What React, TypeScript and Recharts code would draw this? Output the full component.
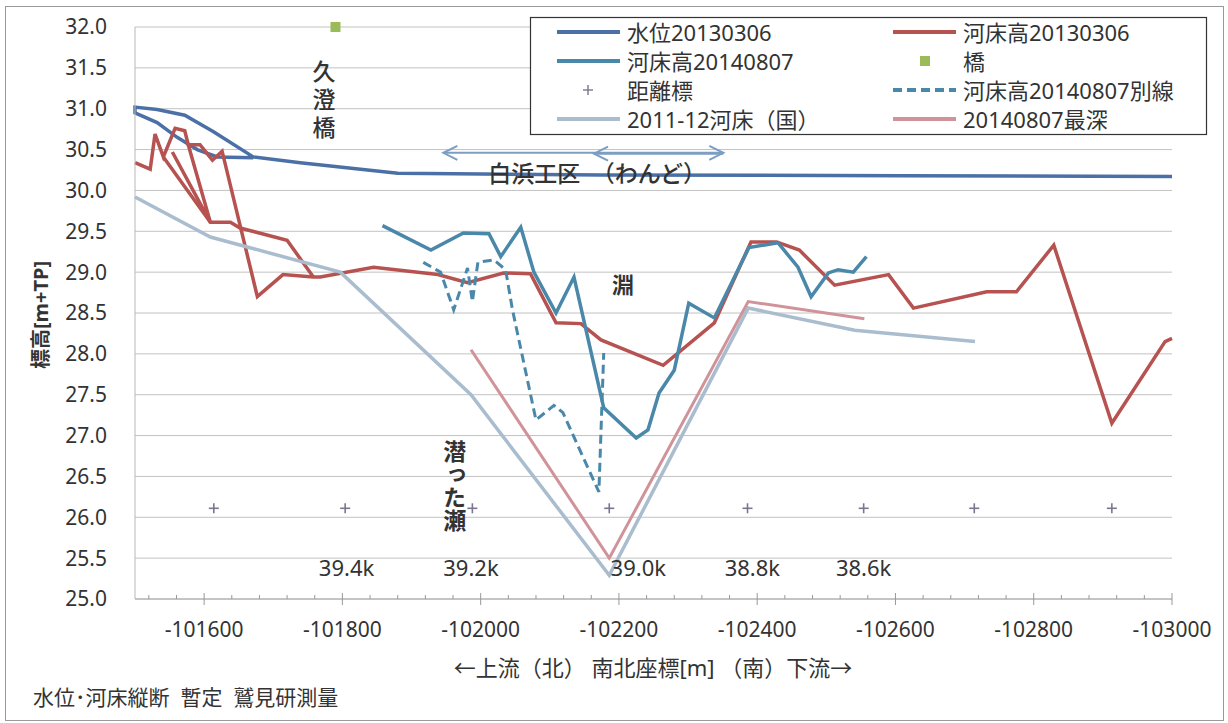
import React from 'react';
import {
  ComposedChart, Line, Scatter, XAxis, YAxis, CartesianGrid, ReferenceDot, ReferenceLine,
} from 'recharts';

const FONT = "'Noto Sans', 'Noto Sans CJK JP', sans-serif";

// ---- data (x: 南北座標 [m], y: 標高 [m+TP]) ----
const waterLevel20130306 = [
  { x: -101671, y: 30.4 }, { x: -101619, y: 30.41 }, { x: -101590, y: 30.5 }, { x: -101561, y: 30.65 },
  { x: -101532, y: 30.83 }, { x: -101500, y: 30.95 }, { x: -101500, y: 31.02 }, { x: -101532, y: 30.99 },
  { x: -101572, y: 30.92 }, { x: -101613, y: 30.72 }, { x: -101671, y: 30.41 }, { x: -101739, y: 30.34 },
  { x: -101880, y: 30.21 }, { x: -102174, y: 30.19 }, { x: -102609, y: 30.18 }, { x: -103000, y: 30.17 },
];

const bed20130306 = [
  { x: -101500, y: 30.34 }, { x: -101522, y: 30.26 }, { x: -101529, y: 30.69 }, { x: -101541, y: 30.41 },
  { x: -101558, y: 30.76 }, { x: -101572, y: 30.73 }, { x: -101577, y: 30.56 }, { x: -101594, y: 30.56 },
  { x: -101612, y: 30.37 }, { x: -101626, y: 30.48 }, { x: -101677, y: 28.7 }, { x: -101714, y: 28.97 },
  { x: -101758, y: 28.94 }, { x: -101768, y: 28.94 }, { x: -101845, y: 29.06 }, { x: -101938, y: 28.97 },
  { x: -101981, y: 28.87 }, { x: -102033, y: 28.99 }, { x: -102072, y: 28.98 }, { x: -102109, y: 28.38 },
  { x: -102145, y: 28.37 }, { x: -102174, y: 28.17 }, { x: -102264, y: 27.86 }, { x: -102338, y: 28.38 },
  { x: -102391, y: 29.37 }, { x: -102428, y: 29.37 }, { x: -102461, y: 29.27 }, { x: -102512, y: 28.84 },
  { x: -102590, y: 28.97 }, { x: -102626, y: 28.56 }, { x: -102732, y: 28.76 }, { x: -102775, y: 28.76 },
  { x: -102829, y: 29.33 }, { x: -102913, y: 27.15 }, { x: -102990, y: 28.15 }, { x: -103000, y: 28.19 },
];
const bed20130306Branch = [
  { x: -101541, y: 30.41 }, { x: -101609, y: 29.61 }, { x: -101638, y: 29.61 }, { x: -101652, y: 29.54 },
  { x: -101720, y: 29.39 }, { x: -101758, y: 28.94 },
];
const bed20130306Fan = [
  { x: -101577, y: 30.56 }, { x: -101609, y: 29.61 }, { x: -101554, y: 30.47 },
];

const bed20140807 = [
  { x: -101858, y: 29.57 }, { x: -101928, y: 29.27 }, { x: -101975, y: 29.48 }, { x: -102012, y: 29.47 },
  { x: -102029, y: 29.19 }, { x: -102058, y: 29.55 }, { x: -102077, y: 29.0 }, { x: -102109, y: 28.5 },
  { x: -102135, y: 28.94 }, { x: -102178, y: 27.34 }, { x: -102225, y: 26.97 }, { x: -102242, y: 27.07 },
  { x: -102258, y: 27.52 }, { x: -102280, y: 27.8 }, { x: -102301, y: 28.62 }, { x: -102338, y: 28.44 },
  { x: -102388, y: 29.3 }, { x: -102430, y: 29.36 }, { x: -102459, y: 29.06 }, { x: -102478, y: 28.7 },
  { x: -102503, y: 28.99 }, { x: -102517, y: 29.03 }, { x: -102539, y: 29.0 }, { x: -102558, y: 29.19 },
];

const bed20140807Alt = [
  { x: -101917, y: 29.12 }, { x: -101942, y: 29.0 }, { x: -101961, y: 28.54 }, { x: -101981, y: 29.05 },
  { x: -101988, y: 28.64 }, { x: -101996, y: 29.12 }, { x: -102019, y: 29.15 }, { x: -102036, y: 29.03 },
  { x: -102046, y: 28.54 }, { x: -102080, y: 27.19 }, { x: -102106, y: 27.37 }, { x: -102119, y: 27.28 },
  { x: -102171, y: 26.31 }, { x: -102178, y: 28.01 },
];

const bed201112 = [
  { x: -101500, y: 29.92 }, { x: -101609, y: 29.43 }, { x: -101797, y: 29.0 }, { x: -101986, y: 27.5 },
  { x: -102186, y: 25.29 }, { x: -102387, y: 28.56 }, { x: -102541, y: 28.29 }, { x: -102715, y: 28.15 },
];

const deepest20140807 = [
  { x: -101986, y: 28.05 }, { x: -102186, y: 25.5 }, { x: -102387, y: 28.64 }, { x: -102555, y: 28.43 },
];

const bridge = [{ x: -101790, y: 32.0 }];

const distanceMarkers = [
  { x: -101614, y: 26.11 }, { x: -101804, y: 26.11 }, { x: -101988, y: 26.11 }, { x: -102186, y: 26.11 },
  { x: -102386, y: 26.11 }, { x: -102554, y: 26.11 }, { x: -102714, y: 26.11 }, { x: -102913, y: 26.11 },
];

const kmLabels = [
  { x: -101806, y: 25.39, label: '39.4k' }, { x: -101986, y: 25.39, label: '39.2k' },
  { x: -102228, y: 25.39, label: '39.0k' }, { x: -102393, y: 25.39, label: '38.8k' },
  { x: -102554, y: 25.39, label: '38.6k' },
];

const yTicks = [25, 25.5, 26, 26.5, 27, 27.5, 28, 28.5, 29, 29.5, 30, 30.5, 31, 31.5, 32];
const xMajorTicks = [-101600, -101800, -102000, -102200, -102400, -102600, -102800, -103000];
const xMinorStep = 40;
const xTicks: number[] = [];
for (let v = -103000; v <= -101520; v += xMinorStep) xTicks.push(v);

// ---- styles ----
const C_WATER = '#4b70a6';
const C_RED = '#b65250';
const C_TEAL = '#4a88aa';
const C_GREEN = '#9bbb59';
const C_PLUS = '#7b7591';
const C_GREY = '#aabdcf';
const C_PINK = '#d0939a';
const C_ARROW = '#7c9ec3';
const C_TEXT = '#333';

const XTick = (props: any) => {
  const { x, y, payload } = props;
  const v = payload.value;
  const major = xMajorTicks.includes(v);
  return (
    <g>
      <line x1={x} x2={x} y1={major ? y - 6 : y - 4} y2={major ? y + 6 : y} stroke="#999" strokeWidth={1} />
      {major && (
        <text x={x} y={y + 38} textAnchor="middle" fontSize={21} fill={C_TEXT} fontFamily={FONT}>{v}</text>
      )}
    </g>
  );
};

const plusShape = (p: any) => (
  <g stroke={C_PLUS} strokeWidth={1.6}>
    <line x1={p.cx - 5} x2={p.cx + 5} y1={p.cy} y2={p.cy} />
    <line x1={p.cx} x2={p.cx} y1={p.cy - 5} y2={p.cy + 5} />
  </g>
);
const squareShape = (p: any) => <rect x={p.cx - 5} y={p.cy - 5} width={10} height={10} fill={C_GREEN} />;
const kmShape = (p: any) => (
  <text x={p.cx} y={p.cy} textAnchor="middle" dominantBaseline="central" fontSize={22} fill={C_TEXT} fontFamily={FONT}>
    {p.payload.label}
  </text>
);

const arrowHead = (dir: number) => (p: any) => (
  <polyline
    points={`${p.cx - dir * 14},${p.cy - 7} ${p.cx},${p.cy} ${p.cx - dir * 14},${p.cy + 7}`}
    fill="none" stroke={C_ARROW} strokeWidth={2}
  />
);

const textShape = (s: string, size: number, anchor: string = 'middle', weight = 500) => (p: any) => (
  <text x={p.cx} y={p.cy} textAnchor={anchor} dominantBaseline="central"
    fontSize={size} fill={C_TEXT} fontFamily={FONT} fontWeight={weight}>{s}</text>
);

const verticalText = (s: string, size: number, spacing: number, weight = 500) => (p: any) => (
  <text x={p.cx} y={p.cy} textAnchor="start" fontSize={size} fill={C_TEXT} fontFamily={FONT} fontWeight={weight}
    style={{ writingMode: 'vertical-rl', letterSpacing: spacing }}>{s}</text>
);

const legendRows = [
  [{ t: 'line', c: C_WATER, label: '水位20130306' }, { t: 'line', c: C_RED, label: '河床高20130306' }],
  [{ t: 'line', c: C_TEAL, label: '河床高20140807' }, { t: 'square', c: C_GREEN, label: '橋' }],
  [{ t: 'plus', c: C_PLUS, label: '距離標' }, { t: 'dash', c: C_TEAL, label: '河床高20140807別線' }],
  [{ t: 'line', c: C_GREY, label: '2011-12河床（国）' }, { t: 'line', c: C_PINK, label: '20140807最深' }],
];

const Swatch = ({ t, c, x, y }: any) => {
  if (t === 'line') return <line x1={x} x2={x + 63} y1={y} y2={y} stroke={c} strokeWidth={4} />;
  if (t === 'dash') return <line x1={x} x2={x + 63} y1={y} y2={y} stroke={c} strokeWidth={4} strokeDasharray="9 5" />;
  if (t === 'square') return <rect x={x + 27} y={y - 5} width={10} height={10} fill={c} />;
  return (
    <g stroke={c} strokeWidth={1.4}>
      <line x1={x + 26} x2={x + 36} y1={y} y2={y} />
      <line x1={x + 31} x2={x + 31} y1={y - 5} y2={y + 5} />
    </g>
  );
};

export default function App() {
  return (
    <div style={{ position: 'absolute', left: 0, top: 0, width: 1228, height: 723, background: '#fff', fontFamily: FONT }}>
      <ComposedChart width={1228} height={723} margin={{ top: 27, right: 56, bottom: 84, left: 0 }}>
        <CartesianGrid horizontal vertical={false} stroke="#c2c2c2" strokeWidth={1} />
        <XAxis type="number" dataKey="x" domain={[-103000, -101500]} reversed ticks={xTicks} interval={0}
          tick={<XTick />} tickLine={false} tickSize={0} tickMargin={0} axisLine={{ stroke: '#a8a8a8' }} height={40} />
        <YAxis type="number" dataKey="y" domain={[25, 32]} ticks={yTicks} width={135} tickLine={false}
          tickSize={0} tickMargin={28} axisLine={{ stroke: '#b8b8b8' }} interval={0}
          tick={{ fontSize: 21, fill: C_TEXT, fontFamily: FONT }} tickFormatter={(v: number) => v.toFixed(1)} />

        <Line data={waterLevel20130306} dataKey="y" type="linear" stroke={C_WATER} strokeWidth={3.5} dot={false} activeDot={false} isAnimationActive={false} />
        <Line data={bed20130306Fan} dataKey="y" type="linear" stroke={C_RED} strokeWidth={3.5} dot={false} activeDot={false} isAnimationActive={false} />
        <Line data={bed20130306Branch} dataKey="y" type="linear" stroke={C_RED} strokeWidth={3.5} dot={false} activeDot={false} isAnimationActive={false} />
        <Line data={bed20130306} dataKey="y" type="linear" stroke={C_RED} strokeWidth={3.5} dot={false} activeDot={false} isAnimationActive={false} />
        <Line data={bed20140807} dataKey="y" type="linear" stroke={C_TEAL} strokeWidth={3.5} dot={false} activeDot={false} isAnimationActive={false} />
        <Scatter data={bridge} shape={squareShape} isAnimationActive={false} />
        <Scatter data={distanceMarkers} shape={plusShape} isAnimationActive={false} />
        <Line data={bed20140807Alt} dataKey="y" type="linear" stroke={C_TEAL} strokeWidth={3} strokeDasharray="9 5" dot={false} activeDot={false} isAnimationActive={false} />
        <Line data={bed201112} dataKey="y" type="linear" stroke={C_GREY} strokeWidth={3.5} dot={false} activeDot={false} isAnimationActive={false} />
        <Line data={deepest20140807} dataKey="y" type="linear" stroke={C_PINK} strokeWidth={3} dot={false} activeDot={false} isAnimationActive={false} />
        <Scatter data={kmLabels} shape={kmShape} isAnimationActive={false} />

        <ReferenceLine segment={[{ x: -101946, y: 30.46 }, { x: -102351, y: 30.46 }]} stroke={C_ARROW} strokeWidth={2} />
        <ReferenceLine segment={[{ x: -102164, y: 30.45 }, { x: -102351, y: 30.45 }]} stroke={C_ARROW} strokeWidth={2} />
        <ReferenceDot x={-101946} y={30.46} r={0} shape={arrowHead(-1)} />
        <ReferenceDot x={-102164} y={30.45} r={0} shape={arrowHead(-1)} />
        <ReferenceDot x={-102351} y={30.46} r={0} shape={arrowHead(1)} />

        <ReferenceDot x={-101772} y={31.6} r={0} shape={verticalText('久澄橋', 23, 5)} />
        <ReferenceDot x={-102011} y={30.21} r={0} shape={textShape('白浜工区　（わんど）', 23, 'start')} />
        <ReferenceDot x={-102206} y={28.86} r={0} shape={textShape('淵', 22, 'middle', 700)} />
        <ReferenceDot x={-101961} y={26.95} r={0} shape={verticalText('潜った瀬', 23, 0, 700)} />
      </ComposedChart>

      <svg width={1228} height={723} style={{ position: 'absolute', left: 0, top: 0, pointerEvents: 'none' }}>
        <rect x={5.5} y={6.5} width={1218} height={714} fill="none" stroke="#999" strokeWidth={1} />
        <text x={40} y={315} transform="rotate(-90 40 315)" textAnchor="middle" dominantBaseline="central"
          fontSize={20} fontWeight={700} fill={C_TEXT} fontFamily={FONT}>標高[m+TP]</text>
        <text x={653} y={667} textAnchor="middle" dominantBaseline="central" fontSize={22} fill={C_TEXT} fontFamily={FONT}>
          ←上流（北） 南北座標[m] （南）下流→
        </text>
        <text x={33} y={697} textAnchor="start" dominantBaseline="central" fontSize={21} fill={C_TEXT} fontFamily={FONT}
          style={{ whiteSpace: 'pre' }}>
          {'水位･河床縦断  暫定  鷲見研測量'}
        </text>

        <g>
          <rect x={530.5} y={17.5} width={676} height={117} fill="#fff" stroke="#333" strokeWidth={1.2} />
          {legendRows.map((row, ri) =>
            row.map((it, ci) => {
              const sx = ci === 0 ? 557 : 893;
              const tx = ci === 0 ? 627 : 963;
              const cy = 32 + ri * 29;
              return (
                <g key={`${ri}-${ci}`}>
                  <Swatch t={it.t} c={it.c} x={sx} y={cy} />
                  <text x={tx} y={cy} dominantBaseline="central" fontSize={22} fill={C_TEXT} fontFamily={FONT}>{it.label}</text>
                </g>
              );
            })
          )}
        </g>
      </svg>
    </div>
  );
}
